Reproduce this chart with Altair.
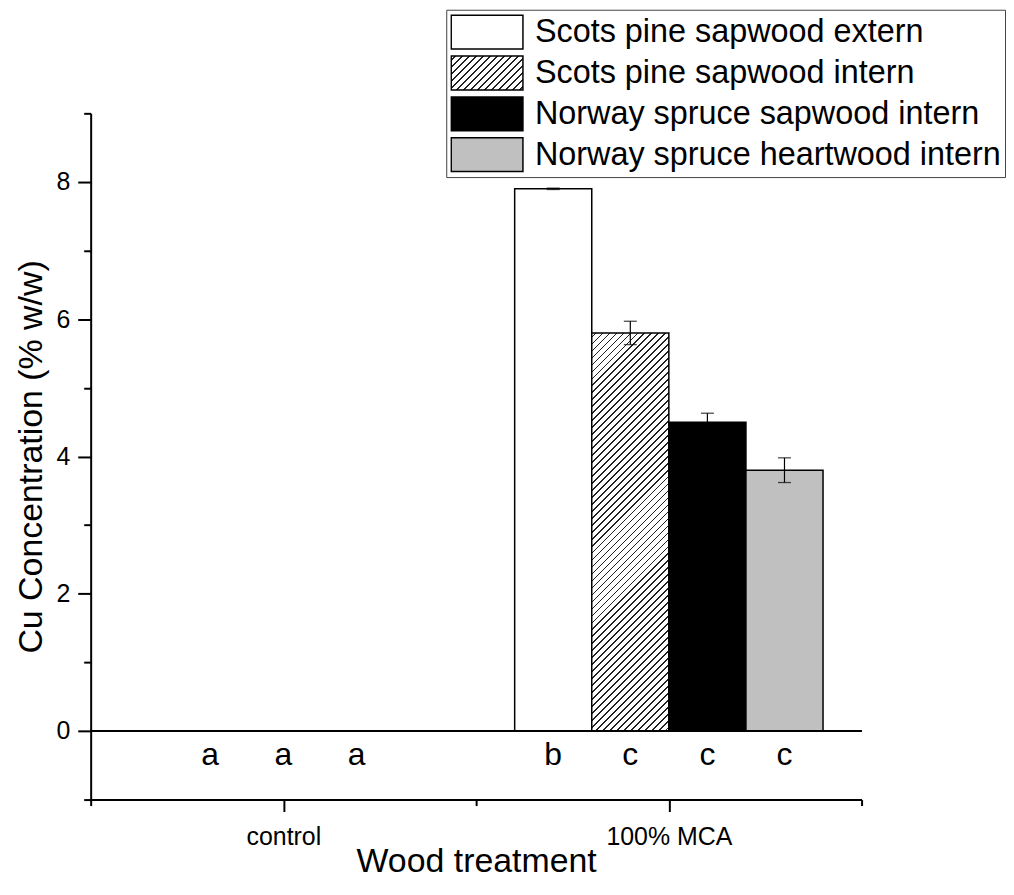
import altair as alt
import pandas as pd
import json

# ---------------- data ----------------
series = ["Scots pine sapwood extern", "Scots pine sapwood intern",
          "Norway spruce sapwood intern", "Norway spruce heartwood intern"]
series_fill = ["#ffffff", None, "#000000", "#c0c0c0"]   # None -> hatched
categories = ["control", "100% MCA"]
mca_centers = [1.7, 1.9, 2.1, 2.3]
mca_values = [7.9, 5.8, 4.5, 3.8]
mca_errors = [0.01, 0.17, 0.13, 0.18]
bar_width = 0.2
letter_x = [0.81, 1.0, 1.19, 1.7, 1.9, 2.1, 2.3]
letters = ["a", "a", "a", "b", "c", "c", "c"]
y_major = [0, 2, 4, 6, 8]
y_minor = [-1, 1, 3, 5, 7, 9]
x_major = [1, 2]
x_minor = [0.5, 1.5, 2.5]

# ---------------- style ----------------
W, H = 774, 689
XDOM = [0.5, 2.5]
YDOM = [-1, 9]
FONT = "Liberation Sans"
LETTER_Y = -0.5
INK = "#222222"


def hatch(w, h, spacing=7.0, lw=1.2):
    L = w + h
    den = w * w + h * h
    x2 = w * L / den
    y2 = h * L / den
    stops = [(0.0, "#ffffff")]
    pos = spacing / 2
    thick = lw * 1.4142
    while pos + thick < L:
        a = round(pos / L, 5)
        b = round((pos + thick) / L, 5)
        stops += [(a, "#ffffff"), (a, INK), (b, INK), (b, "#ffffff")]
        pos += spacing
    stops.append((1.0, "#ffffff"))
    return x2, y2, stops


hi_idx = series_fill.index(None)
bw_px = bar_width * W / (XDOM[1] - XDOM[0])
bh_px = mca_values[hi_idx] * H / (YDOM[1] - YDOM[0])
gx2, gy2, gstops = hatch(bw_px, bh_px)
bar_grad = alt.LinearGradient(
    gradient="linear", x1=0, y1=0, x2=gx2, y2=gy2,
    stops=[alt.GradientStop(offset=o, color=c) for o, c in gstops])

SW_W, SW_H = 72, 34
lx2, ly2, lstops = hatch(SW_W, SW_H)
legend_expr = "{'gradient':'linear','x1':0,'y1':0,'x2':%.5f,'y2':%.5f,'stops':[%s]}" % (
    lx2, ly2, ",".join("{'offset':%s,'color':'%s'}" % (o, c) for o, c in lstops))
legend_range = [c if c is not None else {"expr": legend_expr} for c in series_fill]

df = pd.DataFrame({"series": series, "center": mca_centers,
                   "value": mca_values, "err": mca_errors})
df["x0"] = df.center - bar_width / 2
df["x1"] = df.center + bar_width / 2
df["lo"] = df.value - df.err
df["hi"] = df.value + df.err
caps = pd.concat([
    df[["center", "lo"]].rename(columns={"lo": "cy"}),
    df[["center", "hi"]].rename(columns={"hi": "cy"}),
])
df_letters = pd.DataFrame({"lx": letter_x, "txt": letters})

xscale = alt.Scale(domain=XDOM, nice=False, zero=False)
yscale = alt.Scale(domain=YDOM, nice=False, zero=False)

label_expr = "%s[round(datum.value) - 1]" % json.dumps(categories)

x_axis_major = alt.Axis(
    values=x_major, labelExpr=label_expr, orient="bottom",
    tickSize=12, tickWidth=2, tickColor="black",
    domainWidth=2, domainColor="black", grid=False,
    labelFontSize=25, labelFont=FONT, labelColor="black", labelPadding=13,
    labelFlush=False, labelOverlap=False,
    title="Wood treatment", titleFontSize=34, titleFont=FONT,
    titleFontWeight="normal", titleColor="black",
    titleX=W / 2, titleY=72, titleAlign="center", titleBaseline="alphabetic")
x_axis_minor = alt.Axis(
    values=x_minor, orient="bottom", tickSize=6, tickWidth=2,
    tickColor="black", domain=False, labels=False, grid=False, title=None)

y_axis_major = alt.Axis(
    values=y_major, orient="left", tickSize=13, tickWidth=2,
    tickColor="black", domainWidth=2, domainColor="black", grid=False,
    labelFontSize=25, labelFont=FONT, labelColor="black", labelPadding=8,
    title="Cu Concentration (% w/w)", titleFontSize=34, titleFont=FONT,
    titleFontWeight="normal", titleColor="black",
    titleX=-49, titleY=H / 2, titleAngle=270, titleAlign="center",
    titleBaseline="alphabetic")
y_axis_minor = alt.Axis(
    values=y_minor, orient="left", tickSize=7, tickWidth=2,
    tickColor="black", domain=False, labels=False, grid=False, title=None)

legend = alt.Legend(
    title=None, orient="none", legendX=357, legendY=-104,
    symbolType="M-1,-0.4722H1V0.4722H-1Z", symbolSize=SW_W * SW_W,
    symbolStrokeColor="black", symbolStrokeWidth=1.5, symbolOpacity=1,
    labelFontSize=32.5, labelFont=FONT, labelColor="black", labelLimit=1000,
    labelOffset=11, clipHeight=37, rowPadding=4, padding=4,
    strokeColor="#444444", fillColor="white")

base = alt.Chart(df)

bars = base.mark_rect(stroke="black", strokeWidth=1.5).encode(
    x=alt.X("x0:Q", scale=xscale, axis=x_axis_major),
    x2="x1:Q",
    y=alt.Y("value:Q", scale=yscale, axis=y_axis_major),
    y2=alt.datum(0),
    fill=alt.condition(
        alt.datum.series == series[hi_idx],
        alt.value(bar_grad),
        alt.Fill("series:N", scale=alt.Scale(domain=series, range=legend_range),
                 legend=legend)),
)

stems = base.mark_rule(color="black", strokeWidth=1.2).encode(
    x=alt.X("center:Q", scale=xscale, axis=None),
    y=alt.Y("lo:Q", scale=yscale, axis=None),
    y2="hi:Q",
)

cap_marks = alt.Chart(caps).mark_tick(
    orient="horizontal", size=13, thickness=1.3, color="black").encode(
    x=alt.X("center:Q", scale=xscale, axis=None),
    y=alt.Y("cy:Q", scale=yscale, axis=None),
)

zero = alt.Chart(df).mark_rule(color="black", strokeWidth=2).encode(
    y=alt.YDatum(0, scale=yscale, axis=y_axis_minor),
)

text = alt.Chart(df_letters).mark_text(
    fontSize=32, font=FONT, baseline="alphabetic", align="center",
    color="black").encode(
    x=alt.X("lx:Q", scale=xscale, axis=x_axis_minor),
    y=alt.YDatum(LETTER_Y, scale=yscale, axis=None),
    text="txt:N",
)

chart = alt.layer(bars, stems, cap_marks, zero, text).resolve_axis(
    x="independent", y="independent"
).properties(
    width=W, height=H,
    autosize=alt.AutoSizeParams(type="none"),
    padding={"left": 83, "top": 104, "right": 145, "bottom": 80},
    background="white",
).configure(font=FONT).configure_view(stroke=None, strokeWidth=0)

chart.save("out.html", embed_options={"renderer": "svg", "actions": False})
